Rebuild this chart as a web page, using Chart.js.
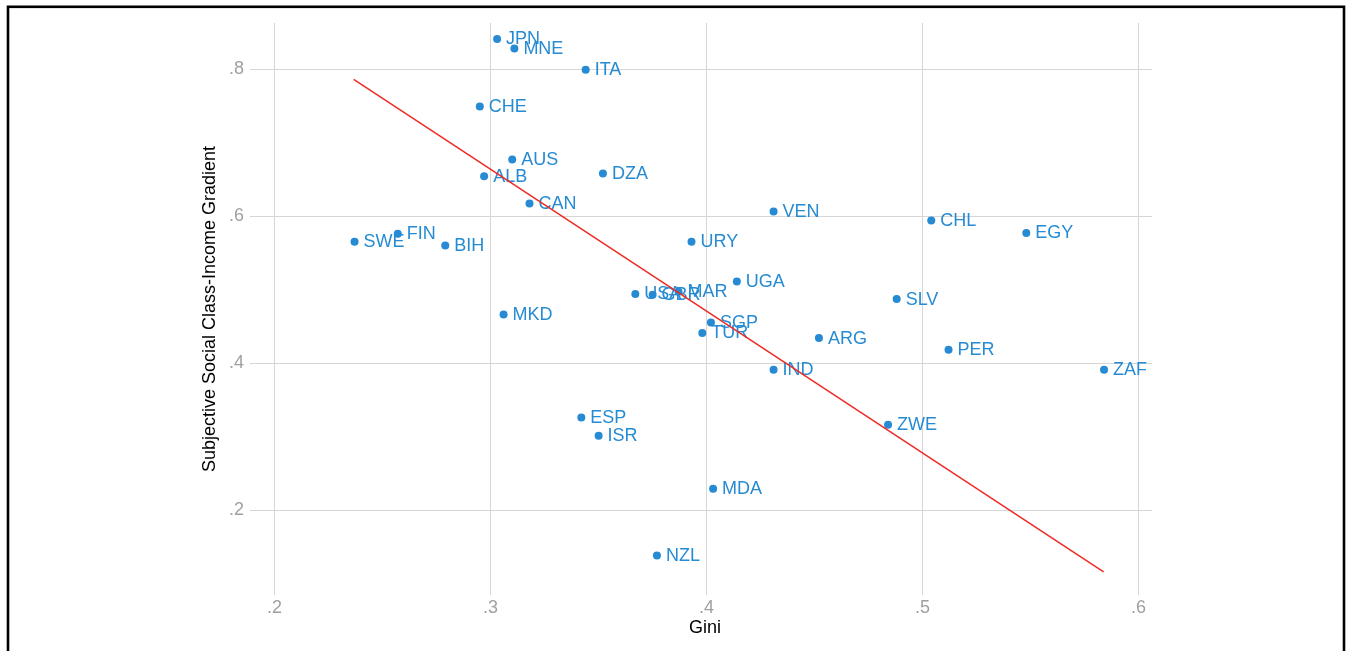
<!DOCTYPE html>
<html>
<head>
<meta charset="utf-8">
<script src="https://cdn.jsdelivr.net/npm/chart.js@4/dist/chart.umd.min.js"></script>
<style>
  html, body { margin: 0; padding: 0; background: #fff; overflow: hidden; }
  #grafico { display: block; }
</style>
</head>
<body>
<canvas id="grafico" width="1346" height="651"></canvas>
<script>
// dados
const paises = ['JPN', 'MNE', 'ITA', 'CHE', 'AUS', 'DZA', 'ALB', 'CAN', 'VEN', 'CHL',
  'EGY', 'SWE', 'FIN', 'BIH', 'URY', 'UGA', 'USA', 'GBR', 'MAR', 'SLV',
  'MKD', 'SGP', 'TUR', 'ARG', 'PER', 'IND', 'ZAF', 'ZWE', 'ESP', 'ISR',
  'MDA', 'NZL'];
const gini = [0.303, 0.311, 0.344, 0.295, 0.310, 0.352, 0.297, 0.318, 0.431, 0.504,
  0.548, 0.237, 0.257, 0.279, 0.393, 0.414, 0.367, 0.375, 0.387, 0.488,
  0.306, 0.402, 0.398, 0.452, 0.512, 0.431, 0.584, 0.484, 0.342, 0.350,
  0.403, 0.377];
const gradiente = [0.841, 0.828, 0.799, 0.749, 0.677, 0.658, 0.654, 0.617, 0.606, 0.594,
  0.577, 0.565, 0.576, 0.560, 0.565, 0.511, 0.494, 0.493, 0.497, 0.487,
  0.466, 0.455, 0.441, 0.434, 0.418, 0.391, 0.391, 0.316, 0.326, 0.301,
  0.229, 0.138];

// reta ajustada (extremos)
const ajusteX = [0.2366, 0.5838];
const ajusteY = [0.786, 0.116];

const ticksX = [0.2, 0.3, 0.4, 0.5, 0.6];
const ticksY = [0.2, 0.4, 0.6, 0.8];

const AZUL = '#268bd2';
const FONTE = '"Liberation Sans", Arial, Helvetica, sans-serif';

const formatar = v => v.toFixed(1).replace(/^0/, '');

// rótulos dos países ao lado de cada ponto
const rotulosPlugin = {
  id: 'rotulos',
  afterDatasetDraw(chart, args) {
    if (args.index !== 1) return;
    const ctx = chart.ctx;
    ctx.save();
    ctx.font = '18px ' + FONTE;
    ctx.fillStyle = AZUL;
    ctx.textBaseline = 'middle';
    ctx.textAlign = 'left';
    args.meta.data.forEach((pt, i) => {
      ctx.fillText(paises[i], pt.x + 9, pt.y + 0.5);
    });
    ctx.restore();
  }
};

// títulos dos eixos e moldura
const molduraPlugin = {
  id: 'moldura',
  beforeDraw(chart) {
    const ctx = chart.ctx;
    ctx.save();
    ctx.fillStyle = '#fff';
    ctx.fillRect(0, 0, chart.width, chart.height);
    ctx.restore();
  },
  afterDraw(chart) {
    const ctx = chart.ctx;
    ctx.save();
    ctx.fillStyle = '#000';
    ctx.font = '18px ' + FONTE;
    ctx.textAlign = 'center';
    ctx.textBaseline = 'middle';
    ctx.fillText('Gini', 705, 628);
    ctx.translate(210, 309);
    ctx.rotate(-Math.PI / 2);
    ctx.fillText('Subjective Social Class-Income Gradient', 0, 0);
    ctx.restore();

    ctx.save();
    ctx.strokeStyle = '#000';
    ctx.lineWidth = 2.6;
    ctx.strokeRect(8, 6.8, 1336, 800);
    ctx.restore();
  }
};

const ctx = document.getElementById('grafico').getContext('2d');

const grafico = new Chart(ctx, {
  type: 'scatter',
  data: {
    datasets: [
      {
        type: 'line',
        label: 'Fitted values',
        data: ajusteX.map((x, i) => ({ x: x, y: ajusteY[i] })),
        borderColor: '#ee2a24',
        borderWidth: 1.5,
        pointRadius: 0,
        fill: false,
        order: 0
      },
      {
        label: 'Gradient',
        data: gini.map((g, i) => ({ x: g, y: gradiente[i] })),
        backgroundColor: AZUL,
        borderColor: AZUL,
        borderWidth: 0,
        pointRadius: 4,
        order: 1
      }
    ]
  },
  options: {
    responsive: false,
    animation: false,
    devicePixelRatio: 1,
    layout: { padding: { top: 23, right: 194, left: 0, bottom: 0 } },
    plugins: {
      legend: { display: false },
      tooltip: { enabled: false }
    },
    scales: {
      x: {
        type: 'linear',
        min: 0.1886,
        max: 0.6062,
        afterBuildTicks: s => { s.ticks = ticksX.map(v => ({ value: v })); },
        afterFit: s => { s.height = 56; },
        border: { display: false },
        grid: { color: '#d6d6d6', lineWidth: 1, drawTicks: false },
        ticks: {
          padding: 2,
          color: '#a0a0a0',
          font: { family: FONTE, size: 18 },
          callback: v => formatar(v)
        },
        title: { display: false }
      },
      y: {
        type: 'linear',
        min: 0.0844,
        max: 0.8626,
        afterBuildTicks: s => { s.ticks = ticksY.map(v => ({ value: v })); },
        afterFit: s => { s.width = 250; },
        border: { display: false },
        grid: { color: '#d6d6d6', lineWidth: 1, drawTicks: false },
        ticks: {
          padding: 6,
          color: '#a0a0a0',
          font: { family: FONTE, size: 18 },
          callback: v => formatar(v)
        },
        title: { display: false }
      }
    }
  },
  plugins: [rotulosPlugin, molduraPlugin]
});
</script>
</body>
</html>
